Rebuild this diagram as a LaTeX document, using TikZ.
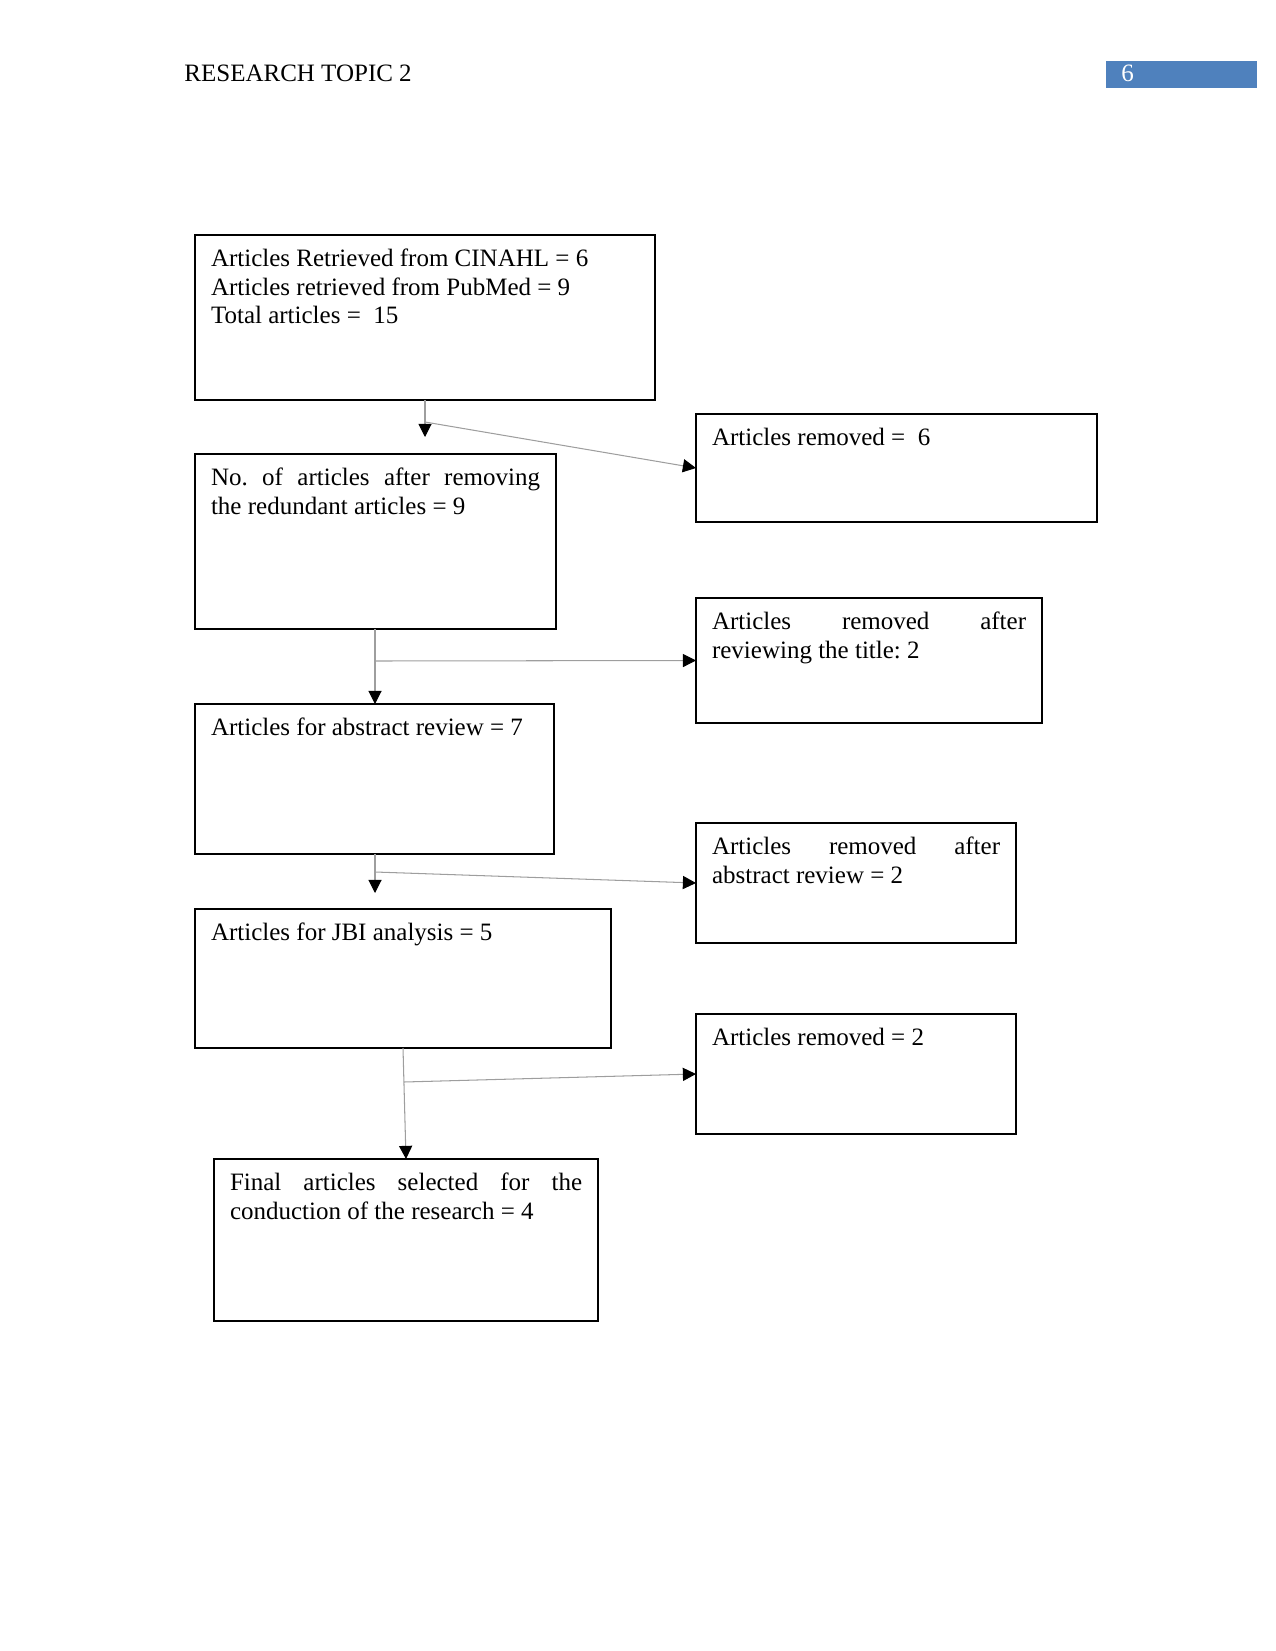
\documentclass[tikz,border=0pt]{standalone}
\usepackage{fontspec}
\setmainfont{Liberation Serif}
\usetikzlibrary{arrows.meta}
\frenchspacing
\tikzset{
  box/.style={draw=black, line width=0.55pt, rectangle, inner sep=0pt, outer sep=0pt, anchor=north west},
  txt/.style={inner sep=0pt, outer sep=0pt, anchor=north west, align=justify, font=\fontsize{12}{13.7}\selectfont},
  conn/.style={draw=black!38, line width=0.5pt},
  arr/.style={conn, -{Triangle[length=6.3pt,width=6.3pt,black]}},
}
\newcommand\flowbox[6]{%
  \pgfmathsetlengthmacro\bw{(#4-#2)*0.48pt}%
  \pgfmathsetlengthmacro\bh{(#5-#3)*0.48pt}%
  \pgfmathsetlengthmacro\tw{(#4-#2-32)*0.48pt}%
  \node[box, minimum width=\bw, minimum height=\bh] (#1) at (#2,#3) {};
  \node[txt, text width=\tw] (#1t) at ([xshift=7.7pt,yshift=-6.2pt]#1.north west) {\vrule height 9pt depth 0pt width 0pt\relax #6};
}
\begin{document}
\begin{tikzpicture}[x=0.48pt,y=-0.48pt]
\useasboundingbox (0,0) rectangle (1275,1651);
% header
\node[anchor=base west, inner sep=0pt, font=\fontsize{12}{13}\selectfont] (hdr) at (184,82) {RESEARCH TOPIC 2};
\node[anchor=north west, fill={rgb,255:red,79;green,129;blue,189}, minimum width=72.5pt, minimum height=13pt, inner sep=0pt] (pg) at (1106,61) {};
\node[anchor=base west, inner sep=0pt, text=white, font=\fontsize{12}{13}\selectfont] (pgn) at (1121,82) {6};
% boxes
\flowbox{b1}{195}{235}{655}{400}{Articles Retrieved from CINAHL = 6\\Articles retrieved from PubMed = 9\\Total articles = \ 15}
\flowbox{b2}{696}{414}{1097}{522}{Articles removed = \ 6}
\flowbox{b3}{195}{454}{556}{629}{No. of articles after removing\linebreak the redundant articles = 9}
\flowbox{b4}{696}{598}{1042}{723}{Articles removed after\linebreak reviewing the title: 2}
\flowbox{b5}{195}{704}{554}{854}{Articles for abstract review = 7}
\flowbox{b6}{696}{823}{1016}{943}{Articles removed after\linebreak abstract review = 2}
\flowbox{b7}{195}{909}{611}{1048}{Articles for JBI analysis = 5}
\flowbox{b8}{696}{1014}{1016}{1134}{Articles removed = 2}
\flowbox{b9}{214}{1159}{598}{1321}{Final articles selected for the\linebreak conduction of the research = 4}
% connectors
\coordinate (t1) at (425,437);
\coordinate (j1) at (425,422);
\draw[arr] (b1.south -| t1) -- (t1);
\draw[arr] (j1) -- (b2.west);
\coordinate (j2) at (375,661);
\draw[arr] (b3.south -| j2) -- (b5.north -| j2);
\draw[arr] (j2) -- (b4.west);
\coordinate (t3) at (375,893);
\coordinate (j3) at (375,872);
\draw[arr] (b5.south -| t3) -- (t3);
\draw[arr] (j3) -- (b6.west);
\coordinate (j4) at (404,1082);
\draw[arr] (b7.south) -- (b9.north);
\draw[arr] (j4) -- (b8.west);
\end{tikzpicture}
\end{document}
